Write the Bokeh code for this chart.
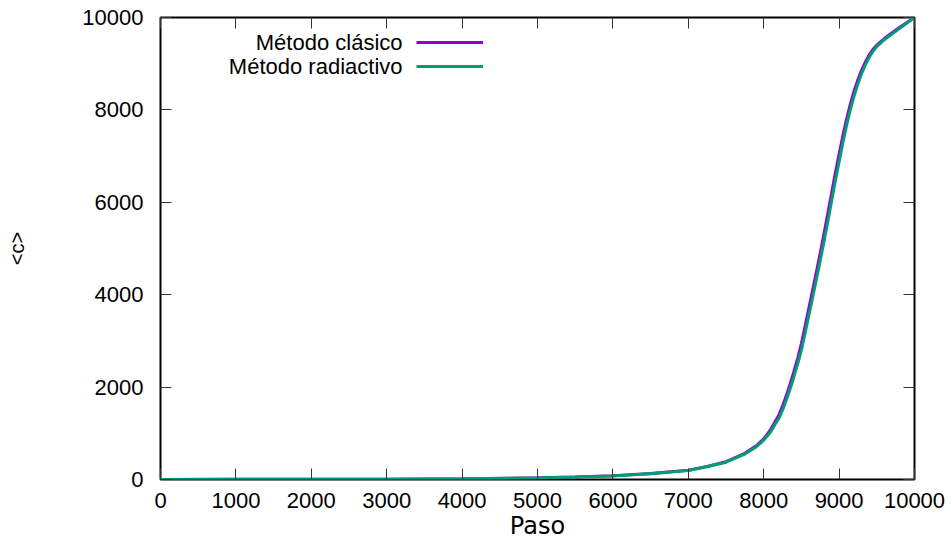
from bokeh.plotting import figure
from bokeh.models import (Range1d, FixedTicker, LinearAxis, Label, Legend, LegendItem)
from bokeh.embed import file_html
from bokeh.resources import INLINE

# ---- data ----
paso = [0, 1000, 2000, 3000, 4000, 5000, 5500, 6000, 6500, 7000, 7250, 7500, 7750, 7900,
        8000, 8050, 8100, 8150, 8200, 8250, 8300, 8350, 8400, 8450, 8500, 8550,
        8600, 8650, 8700, 8750, 8800, 8850, 8900, 8950, 9000, 9050, 9100, 9150,
        9200, 9250, 9300, 9350, 9400, 9450, 9500, 9600, 9700, 9800, 9900, 10000]
clasico = [1, 3, 5, 8, 15, 36, 54, 80, 129, 202, 284, 385, 566, 730,
           880, 985, 1100, 1250, 1392, 1588, 1816, 2064, 2332, 2616, 2948, 3326,
           3716, 4106, 4500, 4904, 5322, 5756, 6196, 6632, 7044, 7442, 7806, 8130,
           8414, 8658, 8866, 9044, 9192, 9310, 9400, 9544, 9664, 9784, 9892, 10000]
radiactivo = [1, 3, 5, 8, 15, 35, 52, 78, 125, 195, 275, 375, 550, 705,
              850, 945, 1050, 1190, 1320, 1500, 1720, 1960, 2220, 2500, 2800, 3170,
              3560, 3950, 4340, 4740, 5150, 5580, 6020, 6460, 6880, 7290, 7670, 8010,
              8310, 8570, 8790, 8980, 9140, 9270, 9370, 9520, 9640, 9760, 9880, 10000]
series_names = ["Método clásico", "Método radiactivo"]
series_colors = ["#9400D3", "#009E73"]
x_ticks = [0, 1000, 2000, 3000, 4000, 5000, 6000, 7000, 8000, 9000, 10000]
y_ticks = [0, 2000, 4000, 6000, 8000, 10000]
x_label = "Paso"
y_label = "<c>"

FONT = "Liberation Sans"

p = figure(width=952, height=542, output_backend="svg", toolbar_location=None,
           x_range=Range1d(0, 10000), y_range=Range1d(0, 10000),
           min_border_left=160, min_border_right=38, min_border_top=17,
           min_border_bottom=63, x_axis_location=None, y_axis_location=None)
p.grid.visible = False
p.outline_line_color = "black"
p.outline_line_width = 2
p.background_fill_color = "white"
p.border_fill_color = "white"

def make_axis(ticks, show_labels, standoff):
    ax = LinearAxis(ticker=FixedTicker(ticks=ticks))
    ax.axis_line_color = None
    ax.major_tick_in = 11
    ax.major_tick_out = 0
    ax.major_tick_line_color = "#333333"
    ax.major_tick_line_width = 1
    ax.minor_tick_line_color = None
    if show_labels:
        ax.major_label_text_font = FONT
        ax.major_label_text_font_size = "22px"
        ax.major_label_text_color = "black"
        ax.major_label_standoff = standoff
    else:
        ax.major_label_text_font_size = "1px"
        ax.major_label_text_color = None
        ax.major_label_standoff = 0
    return ax

xax = make_axis(x_ticks, True, 13)
xax.axis_label = x_label
xax.axis_label_text_font = "DejaVu Sans"
xax.axis_label_text_font_size = "24px"
xax.axis_label_text_font_style = "normal"
xax.axis_label_text_color = "black"
xax.axis_label_standoff = 1
p.add_layout(xax, "below")

yax = make_axis(y_ticks, True, 17)
yax.axis_label = y_label
yax.axis_label_text_font = FONT
yax.axis_label_text_font_size = "20px"
yax.axis_label_text_font_style = "normal"
yax.axis_label_text_color = "black"
yax.axis_label_standoff = 51
p.add_layout(yax, "left")

p.add_layout(make_axis(x_ticks, False, 0), "above")
p.add_layout(make_axis(y_ticks, False, 0), "right")

r1 = p.line(paso, clasico, line_color=series_colors[0], line_width=3)
r2 = p.line(paso, radiactivo, line_color=series_colors[1], line_width=3)

# legend samples (gnuplot style: text left, sample right)
legend = Legend(items=[LegendItem(label=" ", renderers=[r1]),
                       LegendItem(label="\u00a0", renderers=[r2])],
                location=(256, 403), orientation="vertical",
                glyph_width=67, glyph_height=20, label_height=20, label_width=0,
                label_standoff=0, spacing=4, padding=0, margin=0,
                label_text_font_size="8px",
                background_fill_alpha=0, border_line_alpha=0)
p.add_layout(legend)

for i, name in enumerate(series_names):
    p.add_layout(Label(x=242, y=437 - i * 24, x_units="screen", y_units="screen",
                       text=name, text_align="right", text_baseline="middle",
                       text_font=FONT, text_font_size="22px", text_color="black"))

open("out.html", "w").write(file_html(p, INLINE))
